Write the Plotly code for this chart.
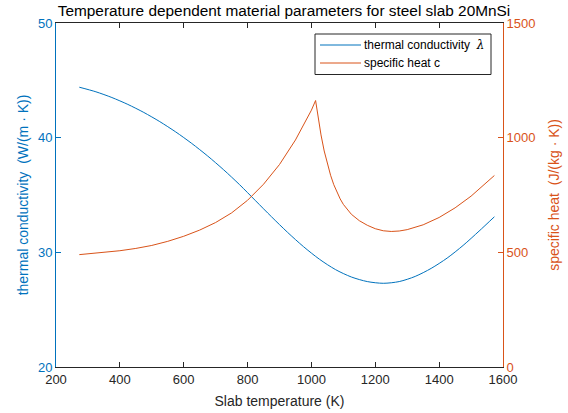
import plotly.graph_objects as go

# Temperature (K) and thermal conductivity W/(m K)
T_lam = [273, 325, 375, 425, 475, 525, 575, 625, 675, 725, 775, 825, 875, 925, 975,
         1025, 1075, 1125, 1175, 1225, 1275, 1325, 1375, 1425, 1475, 1525, 1573]
lam = [44.4, 44.0, 43.5, 42.9, 42.2, 41.4, 40.5, 39.5, 38.4, 37.2, 35.9, 34.5, 33.1, 31.75, 30.5,
       29.4, 28.5, 27.85, 27.45, 27.3, 27.45, 27.9, 28.6, 29.5, 30.6, 31.85, 33.1]

# Temperature (K) and specific heat J/(kg K)
T_c = [273, 350, 400, 450, 500, 550, 600, 650, 700, 750, 800, 850, 900, 950, 980, 1000, 1013,
       1020, 1030, 1040, 1050, 1060, 1070, 1080, 1090, 1100, 1125, 1150, 1175, 1200, 1225, 1250,
       1275, 1300, 1350, 1400, 1450, 1500, 1550, 1573]
c = [490, 500, 507, 517, 530, 548, 570, 597, 630, 672, 727, 797, 883, 990, 1065, 1120, 1162,
     1095, 1012, 942, 884, 836, 795, 761, 733, 709, 666, 638, 618, 603, 594, 591,
     593, 599, 620, 652, 694, 745, 805, 835]

x_ticks = [200, 400, 600, 800, 1000, 1200, 1400, 1600]
y1_ticks = [20, 30, 40, 50]
y2_ticks = [0, 500, 1000, 1500]
legend_names = ['thermal conductivity  <span style="font-family:DejaVu Serif;font-style:italic">λ</span>',
                "specific heat c"]

BLUE = "#0072BD"
ORANGE = "#D95319"
DARK = "#262626"
FONT = "Liberation Sans, Arial, sans-serif"

# plot area in pixels (for placing the hand-drawn legend box)
L, R, TOP, BOT = 56, 503, 23, 367
def px(xp): return (xp - L) / (R - L)
def py(yp): return 1 - (yp - TOP) / (BOT - TOP)

fig = go.Figure()
fig.add_trace(go.Scatter(x=T_lam, y=lam, mode="lines", line=dict(color=BLUE, width=1, shape="spline", smoothing=0.8),
                         name=legend_names[0], yaxis="y"))
fig.add_trace(go.Scatter(x=T_c, y=c, mode="lines", line=dict(color=ORANGE, width=1),
                         name=legend_names[1], yaxis="y2"))

shapes = [
    dict(type="rect", xref="paper", yref="paper", x0=px(315), x1=px(491), y0=py(34), y1=py(74.5),
         line=dict(color=DARK, width=1), fillcolor="white", layer="above"),
    dict(type="line", xref="paper", yref="paper", x0=px(320), x1=px(361), y0=py(45), y1=py(45),
         line=dict(color=BLUE, width=1), layer="above"),
    dict(type="line", xref="paper", yref="paper", x0=px(320), x1=px(361), y0=py(63), y1=py(63),
         line=dict(color=ORANGE, width=1), layer="above"),
]
annotations = [
    dict(text=legend_names[0], xref="paper", yref="paper", x=px(362), y=py(45),
         xanchor="left", yanchor="middle", showarrow=False, font=dict(size=12, color="black")),
    dict(text=legend_names[1], xref="paper", yref="paper", x=px(362), y=py(63),
         xanchor="left", yanchor="middle", showarrow=False, font=dict(size=12, color="black")),
]

fig.update_layout(
    width=568, height=413,
    margin=dict(l=L, r=568 - R, t=TOP, b=413 - BOT),
    paper_bgcolor="white", plot_bgcolor="white",
    font=dict(family=FONT, size=13, color=DARK),
    showlegend=False,
    shapes=shapes, annotations=annotations,
    title=dict(text="Temperature dependent material parameters for steel slab 20MnSi",
               x=0.5, xanchor="center", y=1 - 11/413, yanchor="middle",
               font=dict(size=15.4, color="black", family=FONT)),
    xaxis=dict(range=[200, 1600], tickvals=x_ticks, ticks="inside", ticklen=5,
               showline=True, linecolor=DARK, linewidth=1, mirror="ticks", tickcolor=DARK,
               showgrid=False, zeroline=False, automargin=False,
               tickfont=dict(size=13, color=DARK),
               title=dict(text="Slab temperature (K)", font=dict(size=14, color=DARK), standoff=10)),
    yaxis=dict(range=[20, 50], tickvals=y1_ticks, ticks="inside", ticklen=5,
               showline=True, linecolor=BLUE, linewidth=1, tickcolor=BLUE,
               showgrid=False, zeroline=False, automargin=False,
               tickfont=dict(size=13, color=BLUE),
               title=dict(text="thermal conductivity  (W/(m · K))", font=dict(size=14, color=BLUE), standoff=6)),
    yaxis2=dict(range=[0, 1500], tickvals=y2_ticks, ticks="inside", ticklen=5,
                overlaying="y", side="right",
                showline=True, linecolor=ORANGE, linewidth=1, tickcolor=ORANGE,
                showgrid=False, zeroline=False, automargin=False,
                tickfont=dict(size=13, color=ORANGE),
                title=dict(text="specific heat  (J/(kg · K))", font=dict(size=14, color=ORANGE), standoff=14)),
)

fig.write_html("out.html")
